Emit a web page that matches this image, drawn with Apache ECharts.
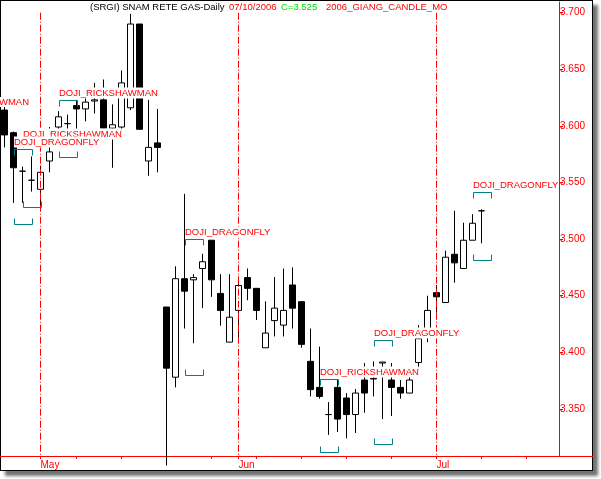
<!DOCTYPE html>
<html><head><meta charset="utf-8">
<script src="https://cdn.jsdelivr.net/npm/echarts@6/dist/echarts.min.js"></script>
<style>
html,body{margin:0;padding:0;background:#fff;width:601px;height:479px;overflow:hidden;}
#frame{position:absolute;left:0;top:0;width:591px;height:469px;border:1px solid #000;background:#fff;box-shadow:5px 5px 3px rgba(0,0,0,0.55);}
#chart{position:absolute;left:0;top:0;width:601px;height:479px;}
</style></head>
<body><div id="frame"></div><div id="chart"></div>
<script>
// trading days shown, then empty future slots
const dates = ['2006-04-25','2006-04-26','2006-04-27','2006-04-28',
 '2006-05-02','2006-05-03','2006-05-04','2006-05-05','2006-05-08','2006-05-09','2006-05-10','2006-05-11','2006-05-12',
 '2006-05-15','2006-05-16','2006-05-17','2006-05-18','2006-05-19','2006-05-22','2006-05-23','2006-05-24','2006-05-25','2006-05-26',
 '2006-05-29','2006-05-30','2006-05-31',
 '2006-06-01','2006-06-02','2006-06-05','2006-06-06','2006-06-07','2006-06-08','2006-06-09',
 '2006-06-12','2006-06-13','2006-06-14','2006-06-15','2006-06-16','2006-06-19','2006-06-20','2006-06-21','2006-06-22','2006-06-23',
 '2006-06-26','2006-06-27','2006-06-28','2006-06-29','2006-06-30',
 '2006-07-03','2006-07-04','2006-07-05','2006-07-06','2006-07-07','2006-07-10'];
const futureDates = ['2006-07-11','2006-07-12','2006-07-13','2006-07-14','2006-07-17','2006-07-18','2006-07-19','2006-07-20'];

const open  = [3.614,3.594,3.560,3.552,3.544,3.569,3.599,3.602,3.618,3.615,3.622,3.623,3.598,3.599,3.616,3.690,3.569,3.585,3.440,3.378,3.465,3.464,3.474,3.499,3.452,3.409,3.437,3.466,3.4565,3.404,3.428,3.424,3.4595,3.4447,3.392,3.369,3.345,3.369,3.3596,3.345,3.3755,3.3764,3.3905,3.3755,3.369,3.364,3.391,3.419,3.4527,3.444,3.4866,3.474,3.499,3.525];
const close = [3.592,3.563,3.560,3.552,3.559,3.577,3.608,3.602,3.615,3.621,3.623,3.598,3.601,3.638,3.690,3.597,3.581,3.581,3.386,3.465,3.454,3.466,3.480,3.464,3.437,3.431,3.459,3.4565,3.437,3.417,3.439,3.437,3.439,3.407,3.367,3.361,3.345,3.341,3.345,3.364,3.364,3.377,3.3914,3.369,3.364,3.3755,3.412,3.437,3.449,3.484,3.479,3.499,3.514,3.525];
const high  = [3.618,3.595,3.564,3.573,3.565,3.599,3.613,3.610,3.623,3.627,3.638,3.641,3.619,3.649,3.699,3.690,3.623,3.615,3.440,3.476,3.540,3.469,3.487,3.499,3.469,3.469,3.467,3.474,3.4565,3.445,3.4665,3.474,3.475,3.445,3.421,3.405,3.356,3.3755,3.364,3.3676,3.3905,3.392,3.3914,3.3905,3.3755,3.387,3.424,3.450,3.4595,3.4898,3.525,3.5145,3.522,3.5263];
const low   = [3.581,3.532,3.532,3.542,3.525,3.559,3.593,3.593,3.596,3.604,3.611,3.598,3.563,3.595,3.614,3.597,3.556,3.559,3.300,3.369,3.421,3.408,3.439,3.449,3.4235,3.409,3.408,3.446,3.4285,3.404,3.414,3.414,3.421,3.404,3.361,3.359,3.327,3.3296,3.324,3.3287,3.3466,3.361,3.341,3.3437,3.359,3.364,3.384,3.409,3.435,3.444,3.4615,3.474,3.499,3.4963];

// candle patterns: candle index, bracket top price, bracket bottom price, name
const patternIndex  = [3, 2, 7, 21, 36, 42, 53];
const patternTop    = [3.5867, 3.5793, 3.6229, 3.4998, 3.3762, 3.4109, 3.5416];
const patternBottom = [3.5286, 3.5133, 3.5725, 3.3800, 3.3117, 3.3187, 3.4815];
const patternNames  = ['DOJI_RICKSHAWMAN','DOJI_DRAGONFLY','DOJI_RICKSHAWMAN','DOJI_DRAGONFLY','DOJI_RICKSHAWMAN','DOJI_DRAGONFLY','DOJI_DRAGONFLY'];

const yTicks = [3.35, 3.40, 3.45, 3.50, 3.55, 3.60, 3.65, 3.70];
const tickDates = ['2006-05-02','2006-05-08','2006-05-15','2006-05-22','2006-05-29','2006-06-01','2006-06-05','2006-06-12','2006-06-19','2006-06-26','2006-07-03','2006-07-10','2006-07-17'];
const monthStarts = ['2006-05-02','2006-06-01','2006-07-03'];
const monthLabels = ['May','Jun','Jul'];

const allDates = dates.concat(futureDates);
const candleData = dates.map((d, i) => [open[i], close[i], low[i], high[i]]);
const patternData = patternIndex.map((x, i) => [x, patternTop[i], patternBottom[i]]);

const RED = '#ff0000', TEAL = '#008080';
const FONT = '"Liberation Sans", Arial, sans-serif';

const chart = echarts.init(document.getElementById('chart'), null, {renderer: 'canvas'});
chart.setOption({
  animation: false,
  backgroundColor: 'transparent',
  grid: {left: 0, top: 2, width: 558, height: 454, containLabel: false},
  xAxis: {
    type: 'category', data: allDates, boundaryGap: true,
    axisLine: {show: true, lineStyle: {color: RED, width: 1}},
    axisTick: {show: true, alignWithLabel: true, length: 3, lineStyle: {color: RED},
      interval: (idx, val) => tickDates.indexOf(val) >= 0},
    axisLabel: {show: true, color: RED, fontSize: 10, fontFamily: FONT, align: 'left', margin: 4,
      interval: (idx, val) => monthStarts.indexOf(val) >= 0,
      formatter: (val) => { const k = monthStarts.indexOf(val); return k >= 0 ? monthLabels[k] : ''; }},
    splitLine: {show: false}
  },
  yAxis: {
    type: 'value', position: 'right', offset: 1,
    min: 3.30839, max: 3.70945,
    axisLine: {show: true, lineStyle: {color: RED, width: 1}},
    axisTick: {show: true, length: 4, lineStyle: {color: RED}, customValues: yTicks},
    axisLabel: {show: true, color: RED, fontSize: 10, fontFamily: FONT, margin: 1, customValues: yTicks,
      formatter: (v) => v.toFixed(3)},
    splitLine: {show: false}
  },
  series: [
    {
      type: 'candlestick', data: candleData, barWidth: 6, clip: true, z: 2,
      itemStyle: {color: '#ffffff', color0: '#000000', borderColor: '#000000', borderColor0: '#000000', borderWidth: 1},
      markLine: {
        silent: true, symbol: ['none', 'none'], label: {show: false},
        lineStyle: {color: RED, width: 1, type: [7, 2, 1, 2]},
        data: monthStarts.map(d => [{coord: [d, 3.70]}, {coord: [d, 3.30839]}])
      }
    },
    {
      type: 'custom', data: patternData, z: 5, clip: false,
      encode: {x: 0, y: [1, 2]},
      renderItem: function (params, api) {
        const idx = api.value(0);
        const pT = api.coord([idx, api.value(1)]);
        const pB = api.coord([idx, api.value(2)]);
        const w = api.size([1, 0])[0];
        const x0 = Math.round(pT[0] - w) + 0.5, x1 = Math.round(pT[0] + w) + 0.5;
        const yT = Math.round(pT[1]) + 0.5, yB = Math.round(pB[1]) + 0.5;
        const d = 6;
        const ls = {stroke: TEAL, lineWidth: 1, fill: 'none'};
        return {
          type: 'group',
          children: [
            {type: 'polyline', shape: {points: [[x0, yT + d], [x0, yT], [x1, yT], [x1, yT + d]]}, style: ls},
            {type: 'polyline', shape: {points: [[x0, yB - d], [x0, yB], [x1, yB], [x1, yB - d]]}, style: ls},
            {type: 'text', style: {text: patternNames[params.dataIndex], x: x0 - 0.5, y: yT - 2,
              fill: RED, font: '9.5px ' + FONT, align: 'left', verticalAlign: 'bottom',
              backgroundColor: '#ffffff', padding: [1, 0, 0, 0]}}
          ]
        };
      }
    }
  ],
  graphic: [
    {type: 'text', left: 90, top: 2, style: {text: '(SRGI) SNAM RETE GAS-Daily', fill: '#000', font: '9.5px ' + FONT}},
    {type: 'text', left: 229, top: 2, style: {text: '07/10/2006', fill: RED, font: '9.5px ' + FONT}},
    {type: 'text', left: 281, top: 2, style: {text: 'C=3.525', fill: '#00dd00', font: '9.5px ' + FONT}},
    {type: 'text', left: 326, top: 2, style: {text: '2006_GIANG_CANDLE_MO', fill: RED, font: '9.5px ' + FONT}},
    {type: 'text', x: 29, y: 107, z: 10, style: {text: 'DOJI_RICKSHAWMAN', fill: RED, font: '9.5px ' + FONT, align: 'right', verticalAlign: 'bottom', backgroundColor: '#fff'}},
    {type: 'line', shape: {x1: 558, y1: 456.5, x2: 593, y2: 456.5}, style: {stroke: RED, lineWidth: 1}}
  ]
});
</script></body></html>
